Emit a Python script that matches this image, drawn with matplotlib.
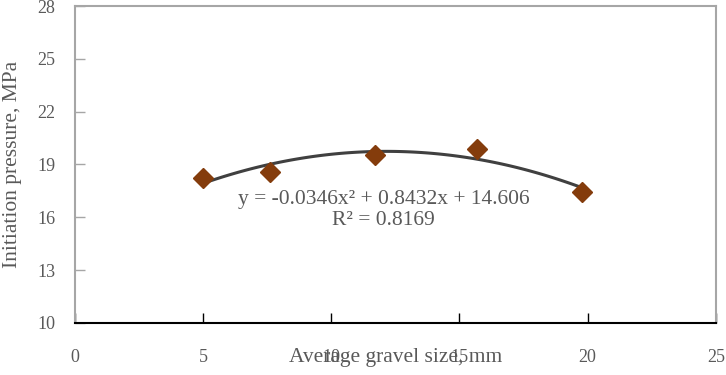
import numpy as np
import matplotlib
matplotlib.use("Agg")
import matplotlib.pyplot as plt

# gravel size (mm) vs initiation pressure (MPa)
gravel_size = np.array([5.0, 7.6, 11.7, 15.7, 19.8])
init_pressure = np.array([18.25, 18.55, 19.53, 19.88, 17.42])

x_ticks = [0, 5, 10, 15, 20, 25]
y_ticks = [10, 13, 16, 19, 22, 25, 28]

eq_text = "y = -0.0346x² + 0.8432x + 14.606"
r2_text = "R² = 0.8169"

plt.rcParams['font.family'] = ['Liberation Serif', 'DejaVu Serif']

fig = plt.figure(figsize=(7.26, 3.75), dpi=100)
ax = fig.add_axes([0.103, 0.139, 0.883, 0.845])

# 2nd order trend line, like the spreadsheet one
coef = np.polyfit(gravel_size, init_pressure, 2)
xs = np.linspace(gravel_size.min(), gravel_size.max(), 100)
ax.plot(xs, np.polyval(coef, xs), color='#404040', lw=2.2, zorder=2)

ax.plot(gravel_size, init_pressure, 'D', color='#843C0C', markersize=10,
        markeredgecolor='#843C0C', zorder=3)

ax.set_xlim(0, 25)
ax.set_ylim(10, 28)
ax.set_xticks(x_ticks)
ax.set_yticks(y_ticks)

grey = '#595959'
for s in ['top', 'right', 'left']:
    ax.spines[s].set_color('#A6A6A6')
    ax.spines[s].set_linewidth(1.5)
ax.spines['bottom'].set_color('black')
ax.spines['bottom'].set_linewidth(1.5)

ax.tick_params(axis='y', direction='in', length=7, width=1, color='#A6A6A6',
               labelsize=13, labelcolor=grey, pad=14)
ax.tick_params(axis='x', direction='in', length=7, width=1, color='black',
               labelsize=13, labelcolor=grey, pad=19)

ax.set_xlabel('Average gravel size, mm', fontsize=15.5, color=grey)
ax.set_ylabel('Initiation pressure, MPa', fontsize=15.5, color=grey)
ax.xaxis.set_label_coords(0.5, -0.08)
ax.yaxis.set_label_coords(-0.082, 0.5)

ax.text(12.05, 16.98, eq_text, fontsize=15.5, color=grey, ha='center', va='center')
ax.text(12.05, 15.84, r2_text, fontsize=15.5, color=grey, ha='center', va='center')

fig.savefig('out.png', dpi=100)
